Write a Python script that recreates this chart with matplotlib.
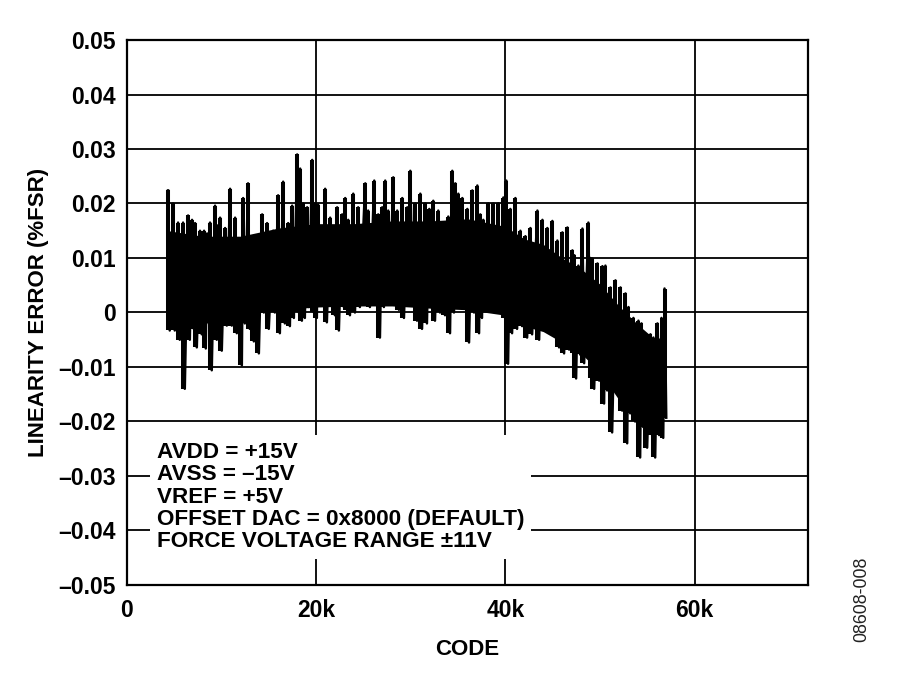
import numpy as np
import matplotlib
matplotlib.use('Agg')
import matplotlib.pyplot as plt

# sampled peaks of the linearity error trace (code, upper spike, lower spike)
codes = [4340, 4870, 5400, 5930, 6460, 6880, 7200, 7720, 8150, 8470,
         8780, 9310, 9630, 9840, 10370, 10900, 11430, 11960, 12280, 12800,
         13230, 13760, 14290, 14810, 15450, 15980, 16510, 17040, 17460, 17990,
         18310, 18620, 19050, 19580, 19890, 20210, 20630, 20950, 21480, 21800,
         22220, 22750, 23070, 23390, 23920, 24440, 25190, 25500, 26140, 26560,
         26980, 27300, 27620, 28150, 28570, 29100, 29630, 29950, 30480, 31010,
         31530, 31960, 32380, 32910, 33440, 33970, 34390, 34710, 35030, 35450,
         35980, 36510, 37040, 37350, 37670, 38200, 38730, 39260, 39790, 40110,
         40530, 41060, 41590, 42120, 42650, 43390, 43920, 44440, 44970, 45500,
         46030, 46560, 47090, 47300, 47720, 48150, 48780, 49000, 49210, 49740,
         50260, 50580, 51110, 51640, 52170, 52700, 53020, 53540, 54070, 54390,
         54810, 55340, 55660, 56080, 56510, 56830]
err_hi = [0.0224, 0.0200, 0.0165, 0.0165, 0.0178, 0.0170, 0.0164, 0.0150, 0.0150, 0.0145,
          0.0165, 0.0196, 0.0160, 0.0174, 0.0155, 0.0227, 0.0174, 0.0126, 0.0210, 0.0237,
          0.0132, 0.0140, 0.0180, 0.0164, 0.0150, 0.0215, 0.0240, 0.0164, 0.0196, 0.0290,
          0.0264, 0.0200, 0.0193, 0.0280, 0.0200, 0.0198, 0.0154, 0.0227, 0.0174, 0.0138,
          0.0193, 0.0180, 0.0210, 0.0170, 0.0218, 0.0193, 0.0237, 0.0187, 0.0242, 0.0180,
          0.0193, 0.0242, 0.0187, 0.0248, 0.0187, 0.0210, 0.0193, 0.0260, 0.0200, 0.0218,
          0.0200, 0.0190, 0.0205, 0.0187, 0.0163, 0.0176, 0.0260, 0.0237, 0.0218, 0.0210,
          0.0190, 0.0224, 0.0233, 0.0180, 0.0170, 0.0200, 0.0200, 0.0200, 0.0211, 0.0242,
          0.0190, 0.0210, 0.0150, 0.0140, 0.0155, 0.0187, 0.0170, 0.0155, 0.0168, 0.0132,
          0.0147, 0.0156, 0.0114, 0.0105, 0.0086, 0.0154, 0.0165, 0.0100, 0.0099, 0.0090,
          0.0085, 0.0086, 0.0046, 0.0059, 0.0046, 0.0035, 0.0010, -0.0010, -0.0015, -0.0020,
          -0.0070, -0.0040, -0.0046, -0.0020, -0.0010, 0.0044]
err_lo = [-0.0033, -0.0033, -0.0050, -0.0140, -0.0050, -0.0030, -0.0064, -0.0040, -0.0066, -0.0020,
          -0.0106, -0.0050, -0.0030, -0.0070, -0.0024, -0.0024, -0.0038, -0.0097, -0.0020, -0.0030,
          -0.0053, -0.0075, 0.0000, -0.0030, 0.0000, -0.0038, -0.0020, -0.0025, -0.0010, 0.0000,
          -0.0015, -0.0010, 0.0010, 0.0000, -0.0010, 0.0035, 0.0015, -0.0018, 0.0020, -0.0005,
          -0.0033, 0.0010, 0.0005, -0.0005, 0.0000, 0.0010, 0.0020, 0.0010, 0.0035, -0.0046,
          0.0010, 0.0020, 0.0035, 0.0015, 0.0005, -0.0010, 0.0020, 0.0077, -0.0015, -0.0030,
          -0.0020, 0.0010, -0.0015, 0.0000, -0.0005, -0.0038, 0.0000, 0.0010, 0.0028, 0.0020,
          -0.0055, 0.0000, -0.0038, -0.0010, 0.0015, 0.0020, 0.0025, 0.0015, -0.0010, -0.0094,
          -0.0038, -0.0030, -0.0025, -0.0046, -0.0040, -0.0050, -0.0030, -0.0035, -0.0025, -0.0064,
          -0.0075, -0.0068, -0.0075, -0.0121, -0.0077, -0.0093, -0.0080, -0.0120, -0.0140, -0.0125,
          -0.0167, -0.0143, -0.0220, -0.0135, -0.0180, -0.0240, -0.0185, -0.0200, -0.0266, -0.0210,
          -0.0248, -0.0225, -0.0266, -0.0225, -0.0230, -0.0193]

# solid core of the trace, where the codes overlap into a black band
band_codes = [4400, 8000, 12000, 16000, 20000, 24000, 28000, 32000, 36000, 40000,
              42000, 44000, 46000, 48000, 50000, 52000, 54000, 56000, 56800]
band_top = [0.0150, 0.0140, 0.0140, 0.0155, 0.0163, 0.0163, 0.0168, 0.0168, 0.0172, 0.0158,
            0.0135, 0.0125, 0.0100, 0.0080, 0.0052, 0.0012, -0.0022, -0.0052, -0.0035]
band_bot = [-0.0005, -0.0010, -0.0005, 0.0005, 0.0010, 0.0012, 0.0012, 0.0008, 0.0005, -0.0005,
            -0.0025, -0.0035, -0.0055, -0.0075, -0.0110, -0.0160, -0.0190, -0.0215, -0.0190]

conditions = ['AVDD = +15V', 'AVSS = \u201315V', 'VREF = +5V',
              'OFFSET DAC = 0x8000 (DEFAULT)', 'FORCE VOLTAGE RANGE \u00b111V']
xticks = [0, 20000, 40000, 60000]
xticklabels = ['0', '20k', '40k', '60k']
yticks = [-0.05, -0.04, -0.03, -0.02, -0.01, 0, 0.01, 0.02, 0.03, 0.04, 0.05]
yticklabels = ['\u20130.05', '\u20130.04', '\u20130.03', '\u20130.02', '\u20130.01',
               '0', '0.01', '0.02', '0.03', '0.04', '0.05']

plt.rcParams['font.family'] = ['Liberation Sans', 'DejaVu Sans']
plt.rcParams['font.weight'] = 'bold'

fig = plt.figure(figsize=(9, 6.85), dpi=100)
ax = fig.add_axes([0.1411, 0.146, 0.7567, 0.7956])

# spikes plus the dense band between them
ax.fill_between(band_codes, band_bot, band_top, color='black', lw=0, zorder=4)
ax.vlines(codes, err_lo, err_hi, color='black', lw=2.9, zorder=4)
x = np.empty(2 * len(codes))
y = np.empty(2 * len(codes))
x[0::2] = codes
x[1::2] = np.array(codes) + 180
y[0::2] = err_hi
y[1::2] = err_lo
ax.plot(x, y, color='black', lw=1.8, zorder=4)

ax.set_xlim(0, 72000)
ax.set_ylim(-0.05, 0.05)
ax.set_xticks(xticks)
ax.set_xticklabels(xticklabels)
ax.set_yticks(yticks)
ax.set_yticklabels(yticklabels)
ax.tick_params(length=0, labelsize=16.5, pad=8)
ax.tick_params(axis='x', pad=10)
ax.grid(True, color='black', lw=1.3)
ax.set_axisbelow(True)
for s in ax.spines.values():
    s.set_linewidth(1.6)

ax.set_xlabel('CODE', fontsize=16, fontweight='bold', labelpad=12)
ax.set_ylabel('LINEARITY ERROR (%FSR)', fontsize=16, fontweight='bold', labelpad=7)

ax.text(0.044, 0.262, '\n'.join(conditions), transform=ax.transAxes,
        fontsize=16.2, va='top', ha='left', linespacing=1.08,
        bbox=dict(boxstyle='square,pad=0.3', fc='white', ec='none'), zorder=3)

fig.text(0.958, 0.125, '08608-008', rotation=90, fontsize=12.8,
         fontweight='normal', color='#222222', ha='center', va='center')

fig.savefig('out.png', dpi=100)
